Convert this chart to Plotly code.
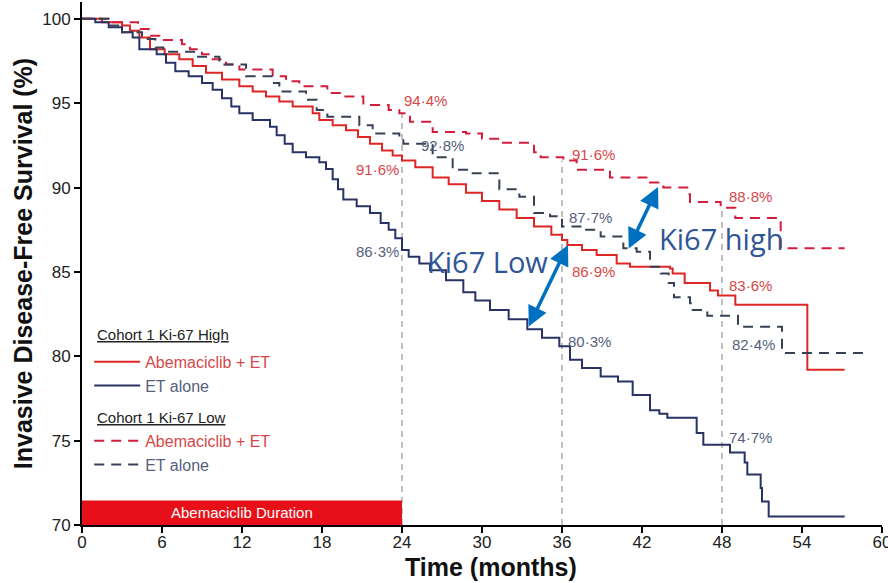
import plotly.graph_objects as go

# ---------------- data ----------------
# Cohort 1 Ki-67 High, Abemaciclib + ET (red solid)
high_abema_t = [0, 1.5, 3.0, 3.6, 4.3, 5.1, 6.2, 7.3, 8.3, 9.3, 10.5, 11.8, 12.8, 13.8, 14.8, 15.8,
                17.3, 17.8, 18.8, 19.8, 20.7, 21.6, 22.5, 23.3, 24.0, 25.0, 26.3, 27.5, 28.8, 30.0,
                31.3, 32.6, 33.9, 35.2, 36.0, 36.4, 37.5, 38.6, 40.1, 41.1, 44.1, 44.3, 45.2, 47.1,
                47.7, 49.0, 54.4, 57.2]
high_abema_v = [100, 99.8, 99.6, 99.3, 98.9, 98.2, 97.9, 97.6, 97.2, 96.8, 96.4, 96.0, 95.7, 95.4, 95.1, 94.8,
                94.4, 94.0, 93.7, 93.4, 93.0, 92.6, 92.2, 91.9, 91.6, 91.2, 90.6, 90.2, 89.7, 89.2,
                88.7, 88.2, 87.7, 87.2, 86.9, 86.6, 86.3, 86.0, 85.5, 85.3, 85.2, 84.9, 84.35, 83.9,
                83.6, 83.05, 79.2, 79.2]

# Cohort 1 Ki-67 High, ET alone (navy solid)
high_et_t = [0, 1.0, 2.0, 3.0, 3.8, 4.3, 5.6, 6.3, 7.0, 8.0, 9.0, 9.8, 10.5, 11.2, 11.8, 12.8, 14.1,
             14.6, 15.2, 15.8, 16.8, 17.8, 18.3, 18.8, 19.2, 19.6, 20.6, 21.6, 22.4, 23.0, 23.5, 24.0,
             24.5, 25.3, 26.1, 27.3, 28.6, 29.5, 30.6, 32.0, 33.4, 34.5, 35.8, 36.6, 37.5, 38.9,
             40.2, 41.3, 42.6, 43.3, 43.9, 46.1, 46.6, 48.6, 49.7, 49.9, 50.9, 51.0, 51.5, 57.2]
high_et_v = [100, 99.8, 99.5, 99.2, 98.9, 98.2, 97.9, 97.4, 96.9, 96.6, 96.2, 95.8, 95.3, 94.8, 94.4, 94.0, 93.6,
             93.1, 92.6, 92.1, 91.8, 91.5, 91.1, 90.5, 89.9, 89.3, 88.9, 88.5, 87.9, 87.5, 87.0, 86.3,
             85.9, 85.5, 85.1, 84.5, 83.8, 83.3, 82.75, 82.2, 81.6, 81.1, 80.6, 79.8, 79.3, 78.8,
             78.5, 77.7, 76.8, 76.6, 76.35, 75.45, 74.75, 74.3, 73.7, 73.0, 72.2, 71.4, 70.5, 70.5]

# Cohort 1 Ki-67 Low, Abemaciclib + ET (red dashed)
low_abema_t = [0, 2.3, 4.2, 5.0, 5.8, 7.5, 8.1, 9.0, 9.8, 10.8, 11.8, 14.3, 15.3, 16.3, 18.4, 19.5,
               21.1, 23.0, 23.8, 24.6, 26.3, 28.8, 30.0, 31.3, 33.9, 34.4, 36.1, 37.1, 39.6, 42.6,
               43.6, 45.4, 45.6, 47.9, 49.0, 52.4, 57.2]
low_abema_v = [100, 99.8, 99.4, 99.0, 98.75, 98.5, 98.2, 97.9, 97.6, 97.3, 97.0, 96.6, 96.3, 96.0, 95.6, 95.4,
               94.9, 94.6, 94.4, 93.9, 93.3, 93.2, 92.9, 92.65, 92.1, 91.8, 91.6, 91.05, 90.6, 90.3,
               90.0, 89.6, 89.15, 88.8, 88.2, 86.4, 86.4]

# Cohort 1 Ki-67 Low, ET alone (navy dashed)
low_et_t = [0, 2.0, 3.0, 4.5, 5.5, 6.1, 8.6, 10.3, 12.3, 14.3, 14.8, 16.8, 17.6, 18.4, 20.8, 21.8,
            23.8, 24.1, 26.3, 27.8, 29.3, 31.3, 32.8, 33.9, 35.1, 36.0, 37.6, 38.9, 40.6, 41.6,
            42.6, 43.4, 44.0, 44.4, 45.6, 45.8, 46.9, 49.2, 52.5, 58.6]
low_et_v = [100, 99.6, 99.2, 98.8, 98.3, 98.05, 97.75, 97.3, 96.6, 96.2, 95.7, 95.2, 94.6, 94.2, 93.7, 93.2,
            92.8, 92.6, 91.8, 91.05, 90.85, 89.9, 89.45, 88.5, 88.3, 87.7, 87.5, 87.1, 86.4, 86.2,
            85.3, 84.9, 84.35, 83.5, 83.15, 82.75, 82.4, 81.75, 80.2, 80.2]

# landmark time points and the highest survival value at each
landmarks = [24, 36, 48]
landmark_top = [94.4, 91.6, 88.8]

# landmark labels
labels_text = ["94·4%", "92·8%", "91·6%", "86·3%", "91·6%", "87·7%", "86·9%", "80·3%",
               "88·8%", "83·6%", "82·4%", "74·7%"]
labels_t = [24.0, 25.3, 23.9, 23.9, 36.6, 36.4, 36.6, 36.3, 48.4, 48.4, 48.6, 48.4]
labels_v = [95.15, 92.5, 91.1, 86.2, 91.95, 88.25, 85.0, 80.85, 89.45, 84.2, 80.7, 75.2]
labels_col = ["r", "n", "r", "n", "r", "n", "r", "n", "r", "r", "n", "n"]
labels_anchor = ["left", "left", "right", "right", "left", "left", "left", "left",
                 "left", "left", "left", "left"]

x_ticks = [0, 6, 12, 18, 24, 30, 36, 42, 48, 54, 60]
y_ticks = [70, 75, 80, 85, 90, 95, 100]

RED = "rgb(222,38,38)"
RED_D = "rgb(210,30,60)"
NAVY = "rgb(40,50,100)"
NAVY_D = "rgb(55,65,85)"
LBL_RED = "rgb(214,72,72)"
LBL_NAVY = "rgb(85,95,125)"
BLUE = "rgb(0,112,192)"
TXT_BLUE = "rgb(47,85,151)"
DASH = "10px,7px"

fig = go.Figure()

fig.add_trace(go.Scatter(x=high_abema_t, y=high_abema_v, mode="lines", line_shape="hv",
                         line=dict(color=RED, width=2), legend="legend",
                         name=f"<span style='color:{LBL_RED}'>Abemaciclib + ET</span>"))
fig.add_trace(go.Scatter(x=high_et_t, y=high_et_v, mode="lines", line_shape="hv",
                         line=dict(color=NAVY, width=2), legend="legend",
                         name=f"<span style='color:{LBL_NAVY}'>ET alone</span>"))
fig.add_trace(go.Scatter(x=low_abema_t, y=low_abema_v, mode="lines", line_shape="hv",
                         line=dict(color=RED_D, width=2, dash=DASH), legend="legend2",
                         name=f"<span style='color:{LBL_RED}'>Abemaciclib + ET</span>"))
fig.add_trace(go.Scatter(x=low_et_t, y=low_et_v, mode="lines", line_shape="hv",
                         line=dict(color=NAVY_D, width=2, dash=DASH), legend="legend2",
                         name=f"<span style='color:{LBL_NAVY}'>ET alone</span>"))

# landmark vertical dashed lines
for t, top in zip(landmarks, landmark_top):
    fig.add_shape(type="line", x0=t, x1=t, y0=70, y1=top, xref="x", yref="y",
                  line=dict(color="rgb(170,170,170)", width=1.5, dash="6px,5px"), layer="below")

# Abemaciclib duration bar
fig.add_shape(type="rect", x0=0, x1=24, y0=70, y1=71.45, xref="x", yref="y",
              fillcolor="rgb(232,16,24)", line=dict(width=0), layer="above")
fig.add_annotation(x=12, y=70.72, xref="x", yref="y", text="Abemaciclib Duration",
                   showarrow=False, font=dict(size=15, color="white", family="Liberation Sans"))

# legend headings
fig.add_annotation(x=0.016, y=0.364, xref="paper", yref="paper", text="<u>Cohort 1 Ki-67 High</u>",
                   showarrow=False, xanchor="left", yanchor="middle",
                   font=dict(size=15, color="#222", family="Liberation Sans"))
fig.add_annotation(x=0.016, y=0.206, xref="paper", yref="paper", text="<u>Cohort 1 Ki-67 Low</u>",
                   showarrow=False, xanchor="left", yanchor="middle",
                   font=dict(size=15, color="#222", family="Liberation Sans"))

# x axis title (placed slightly right of centre, as in the original)
fig.add_annotation(x=0.511, y=-0.081, xref="paper", yref="paper", text="<b>Time (months)</b>",
                   showarrow=False, xanchor="center", yanchor="middle",
                   font=dict(size=25, color="#111", family="Liberation Sans"))

# landmark percentage labels
for txt, t, v, c, a in zip(labels_text, labels_t, labels_v, labels_col, labels_anchor):
    fig.add_annotation(x=t, y=v, xref="x", yref="y", text=txt, showarrow=False,
                       xanchor=a, yanchor="middle",
                       font=dict(size=15, color=LBL_RED if c == "r" else LBL_NAVY,
                                 family="Liberation Sans"))

# Ki67 comparison arrows (double-headed)
fig.add_annotation(x=36.45, y=86.6, ax=33.45, ay=81.68, xref="x", yref="y", axref="x", ayref="y",
                   text="", showarrow=True, arrowhead=2, startarrowhead=2, arrowside="end+start",
                   arrowsize=1.15, startarrowsize=1.15, arrowwidth=3.5, arrowcolor=BLUE)
fig.add_annotation(x=43.2, y=90.04, ax=40.95, ay=86.3, xref="x", yref="y", axref="x", ayref="y",
                   text="", showarrow=True, arrowhead=2, startarrowhead=2, arrowside="end+start",
                   arrowsize=1.15, startarrowsize=1.15, arrowwidth=3.5, arrowcolor=BLUE)
fig.add_annotation(x=30.4, y=85.6, xref="x", yref="y", text="Ki67 Low", showarrow=False,
                   font=dict(size=29, color=TXT_BLUE, family="Open Sans"))
fig.add_annotation(x=47.9, y=87.0, xref="x", yref="y", text="Ki67 high", showarrow=False,
                   font=dict(size=29, color=TXT_BLUE, family="Open Sans"))

leg_common = dict(xanchor="left", yanchor="middle", bgcolor="rgba(0,0,0,0)",
                  font=dict(size=16, family="Liberation Sans"), itemwidth=46,
                  tracegroupgap=0)
fig.update_layout(
    width=888, height=583,
    margin=dict(l=82, r=6, t=2, b=58),
    paper_bgcolor="white", plot_bgcolor="white",
    font=dict(family="Liberation Sans", color="#222"),
    showlegend=True,
    legend=dict(x=0.009, y=0.289, **leg_common),
    legend2=dict(x=0.009, y=0.138, **leg_common),
    xaxis=dict(range=[0, 60], tickvals=x_ticks, showgrid=False, zeroline=False,
               showline=True, linecolor="black", linewidth=2, ticks="outside", ticklen=6,
               tickcolor="black", tickwidth=1.5, automargin=False,
               ticklabeloverflow="allow", ticklabelstandoff=-5,
               tickfont=dict(size=17, color="#222")),
    yaxis=dict(range=[70, 101], tickvals=y_ticks, showgrid=False, zeroline=False,
               showline=True, linecolor="black", linewidth=2, ticks="outside", ticklen=6,
               tickcolor="black", tickwidth=1.5, automargin=False,
               tickfont=dict(size=17, color="#222"),
               title=dict(text="<b>Invasive Disease-Free Survival (%)</b>",
                          font=dict(size=25, color="#111"), standoff=2)),
)

fig.write_html("out.html", config={"displayModeBar": False},
               post_script="document.body.style.margin='0px';document.body.style.overflow='hidden';")
